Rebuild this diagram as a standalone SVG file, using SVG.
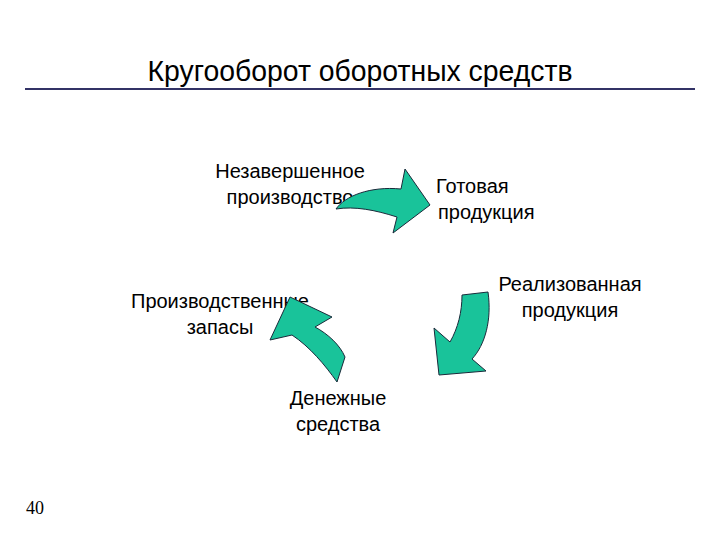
<svg xmlns="http://www.w3.org/2000/svg" width="720" height="540" viewBox="0 0 720 540">
<style>
.lbl{font-family:"Liberation Sans",Arial,sans-serif;font-size:20px;fill:#000;text-anchor:middle}
.arr{fill:#19C39A;stroke:#1a2a3a;stroke-width:1;stroke-linejoin:miter}
</style>
<rect width="720" height="540" fill="#fff"/>
<g id="title">
<text x="360" y="81" style="font-family:'Liberation Sans',Arial,sans-serif;font-size:29px" text-anchor="middle" textLength="425" lengthAdjust="spacingAndGlyphs">Кругооборот оборотных средств</text>
<line x1="25" y1="89" x2="695" y2="89" stroke="#333366" stroke-width="2"/>
</g>
<g id="node-wip"><text class="lbl" x="290" y="178">Незавершенное</text><text class="lbl" x="290" y="204">производство</text></g>
<g id="node-finished"><text class="lbl" x="436" y="193" style="text-anchor:start">Готовая</text><text class="lbl" x="438" y="219" style="text-anchor:start">продукция</text></g>
<g id="node-sold"><text class="lbl" x="570" y="291">Реализованная</text><text class="lbl" x="570" y="317">продукция</text></g>
<g id="node-cash"><text class="lbl" x="338" y="405">Денежные</text><text class="lbl" x="338" y="431">средства</text></g>
<g id="node-stock"><text class="lbl" x="220" y="308">Производственные</text><text class="lbl" x="220" y="334">запасы</text></g>
<g id="connectors">
<path class="arr" d="M336,209 C345,196 370,186 401,189 L405,169 L430,205 L393,233 L397,217 C375,210 355,206 336,209 Z"/>
<path class="arr" d="M462,295 L488,292 C492,320 485,345 472,359 L486,371 L439,375 L434,328 L450,342 C458,328 462,312 462,295 Z"/>
<path class="arr" d="M290,297 L332,317 L315,327 C328,334 340,345 345,357 L337,382 C325,365 310,347 292,335 L270,340 Z"/>
</g>
<text x="26" y="514" style="font-family:'Liberation Serif','Times New Roman',serif;font-size:18px">40</text>
</svg>
